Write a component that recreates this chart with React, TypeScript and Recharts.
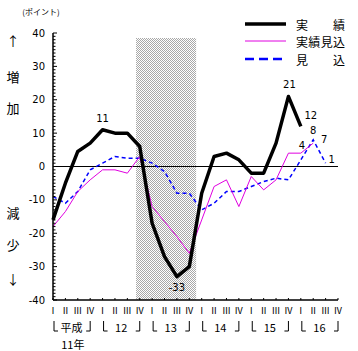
import React from 'react';
import { LineChart, Line, XAxis, YAxis, ReferenceLine, ReferenceArea, LabelList } from 'recharts';

const quarterNames = ['Ⅰ', 'Ⅱ', 'Ⅲ', 'Ⅳ'];
const yearNames = ['平成', '12', '13', '14', '15', '16'];

const actual = [-16, -5, 4.5, 7, 11, 10, 10, 6, -17, -27, -33, -30, -8, 3, 4, 2, -2, -2, 7, 21, 12, null, null, null];
const actualEstimate = [-18, -13.5, -7.5, -4, -1, -1, -2, 3, -12, -16.5, -21, -26, -16, -6, -4, -12, -3, -7, -4, 4, 4, 7, null, null];
const forecast = [-9, -11, -7.5, -1, 1, 3, 2.5, 2.5, 1, -1.5, -8, -8, -13, -11, -7.5, -7.5, -6, -4.5, -3.5, -4, 2, 8, 1, null];

const actualLabels = ['', '', '', '', '11', '', '', '', '', '', '-33', '', '', '', '', '', '', '', '', '21', '12', '', '', ''];
const estimateLabels = ['', '', '', '', '', '', '', '', '', '', '', '', '', '', '', '', '', '', '', '', '4', '7', '', ''];
const forecastLabels = ['', '', '', '', '', '', '', '', '', '', '', '', '', '', '', '', '', '', '', '', '', '8', '1', ''];

const recessionStart = 6.7;
const recessionEnd = 11.55;
const recessionTop = 38.5;

const data = actual.map((v, i) => ({
  x: i,
  actual: v,
  actualEstimate: actualEstimate[i],
  forecast: forecast[i],
  la: actualLabels[i],
  le: estimateLabels[i],
  lf: forecastLabels[i],
}));

const xTicks = data.map((d) => d.x);
const yTicks: number[] = [];
for (let v = -40; v <= 40; v += 1) yTicks.push(v);

const W = 358;
const H = 351;
const M = { top: 33, right: 20, left: 13, bottom: 6 };
const Y_W = 40;
const PLOT_W = W - M.left - M.right - Y_W;
const STEP = PLOT_W / 23;

const FONT = '"DejaVu Sans", sans-serif';
const JFONT = '"Noto Sans CJK JP", sans-serif';

const labelOffsets: Record<string, Record<number, [number, number]>> = {
  actual: { 4: [0, -11], 10: [0, 11], 19: [1, -12], 20: [10, -11] },
  est: { 20: [1, -8], 21: [11, -4] },
  fc: { 21: [0, -9], 22: [6, -4] },
};

const makeLabel = (key: string) => (props: any) => {
  const { x, y, value, index } = props;
  if (!value) return null;
  const off = labelOffsets[key][index] || [0, -10];
  return (
    <text x={x + off[0]} y={y + off[1]} textAnchor="middle" dominantBaseline="central" fontSize={10} fontFamily={FONT} fill="#000">
      {value}
    </text>
  );
};

const XTick = (props: any) => {
  const { x, y, payload } = props;
  const i = payload.value as number;
  const items: any[] = [
    <line key="t" x1={x} x2={x} y1={y - 5} y2={y - 7} stroke="#000" strokeWidth={1} />,
    <text key="q" x={x} y={y + 9} textAnchor="middle" fontSize={9} fontFamily={JFONT} fill="#000">
      {quarterNames[i % 4]}
    </text>,
  ];
  if (i % 4 === 0) {
    const g = i / 4;
    const top = y + 16;
    const bot = y + 26;
    const right = x + 3 * STEP;
    items.push(
      <path key="lb" d={`M${x + 1},${top} L${x + 1},${bot} L${x + 5},${bot}`} stroke="#000" fill="none" strokeWidth={1} />,
      <path key="rb" d={`M${right - 4},${bot} L${right},${bot} L${right},${top}`} stroke="#000" fill="none" strokeWidth={1} />,
      <text key="y" x={x + 1.5 * STEP} y={bot + 1} textAnchor="middle" fontSize={11} fontFamily={JFONT} fill="#000">
        {yearNames[g]}
      </text>
    );
    if (g === 0) {
      items.push(
        <text key="yr" x={x + 1.6 * STEP} y={bot + 18} textAnchor="middle" fontSize={11} fontFamily={JFONT} fill="#000">
          11年
        </text>
      );
    }
  }
  return <g>{items}</g>;
};

const YTick = (props: any) => {
  const { x, y, payload } = props;
  const major = payload.value % 10 === 0;
  return (
    <g>
      <line x1={x + 8} x2={x + (major ? 12 : 10.5)} y1={y} y2={y} stroke="#000" strokeWidth={1} />
      {major ? (
        <text x={x} y={y} textAnchor="end" dominantBaseline="central" fontSize={10} fontFamily={FONT} fill="#000">
          {payload.value}
        </text>
      ) : null}
    </g>
  );
};

const legendItems = [
  { name: '実績', color: '#000', width: 3.5, dash: undefined as string | undefined, y: 24 },
  { name: '実績見込', color: '#e000e0', width: 1, dash: undefined, y: 41 },
  { name: '見込', color: '#0000ff', width: 2.5, dash: '9 5', y: 59 },
];

const sideLabels = [
  { t: '↑', y: 40 },
  { t: '増', y: 76 },
  { t: '加', y: 107 },
  { t: '減', y: 212 },
  { t: '少', y: 244 },
  { t: '↓', y: 278 },
];

export default function App() {
  return (
    <div style={{ position: 'absolute', left: 0, top: 0, width: W, height: H, background: '#fff' }}>
      <LineChart width={W} height={H} data={data} margin={M}>
        <defs>
          <pattern id="chk" width={2} height={2} patternUnits="userSpaceOnUse">
            <rect x={0} y={0} width={2} height={2} fill="#ffffff" />
            <rect x={0} y={0} width={1} height={1} fill="#a8a8a8" />
            <rect x={1} y={1} width={1} height={1} fill="#a8a8a8" />
          </pattern>
        </defs>
        <XAxis
          dataKey="x"
          type="number"
          domain={[0, 23]}
          ticks={xTicks}
          interval={0}
          tick={<XTick />}
          tickLine={false}
          tickSize={3}
          tickMargin={2}
          height={45}
          stroke="#000"
          axisLine={{ stroke: '#000', strokeWidth: 1.5 }}
        />
        <YAxis
          type="number"
          domain={[-40, 40]}
          ticks={yTicks}
          interval={0}
          tick={<YTick />}
          tickLine={false}
          tickSize={3}
          tickMargin={5}
          width={Y_W}
          stroke="#000"
          axisLine={{ stroke: '#000', strokeWidth: 1.5 }}
        />
        <ReferenceArea x1={recessionStart} x2={recessionEnd} y1={-40} y2={recessionTop} fill="url(#chk)" fillOpacity={1} stroke="none" />
        <ReferenceLine y={0} stroke="#000" strokeWidth={1} />
        <Line dataKey="forecast" stroke="#0000ff" strokeWidth={1.5} strokeDasharray="4 3" dot={false} isAnimationActive={false} connectNulls={false}>
          <LabelList dataKey="lf" content={makeLabel('fc')} />
        </Line>
        <Line dataKey="actualEstimate" stroke="#e000e0" strokeWidth={1} dot={false} isAnimationActive={false}>
          <LabelList dataKey="le" content={makeLabel('est')} />
        </Line>
        <Line dataKey="actual" stroke="#000" strokeWidth={3.5} strokeLinejoin="round" dot={false} isAnimationActive={false}>
          <LabelList dataKey="la" content={makeLabel('actual')} />
        </Line>
      </LineChart>
      <svg width={W} height={H} style={{ position: 'absolute', left: 0, top: 0, pointerEvents: 'none' }}>
        <text x={41} y={11} textAnchor="middle" dominantBaseline="central" fontSize={8} fontFamily={JFONT} fill="#000">
          (ポイント)
        </text>
        {sideLabels.map((s) => (
          <text key={s.t + s.y} x={13} y={s.y} textAnchor="middle" dominantBaseline="central" fontSize={13} fontFamily={JFONT} fill="#000">
            {s.t}
          </text>
        ))}
        {legendItems.map((it) => (
          <g key={it.name}>
            <line x1={245} x2={286} y1={it.y} y2={it.y} stroke={it.color} strokeWidth={it.width} strokeDasharray={it.dash} />
            <text x={296} y={it.y} dominantBaseline="central" fontSize={12} fontFamily={JFONT} fill="#000" textLength={49} lengthAdjust="spacing">
              {it.name}
            </text>
          </g>
        ))}
      </svg>
    </div>
  );
}
